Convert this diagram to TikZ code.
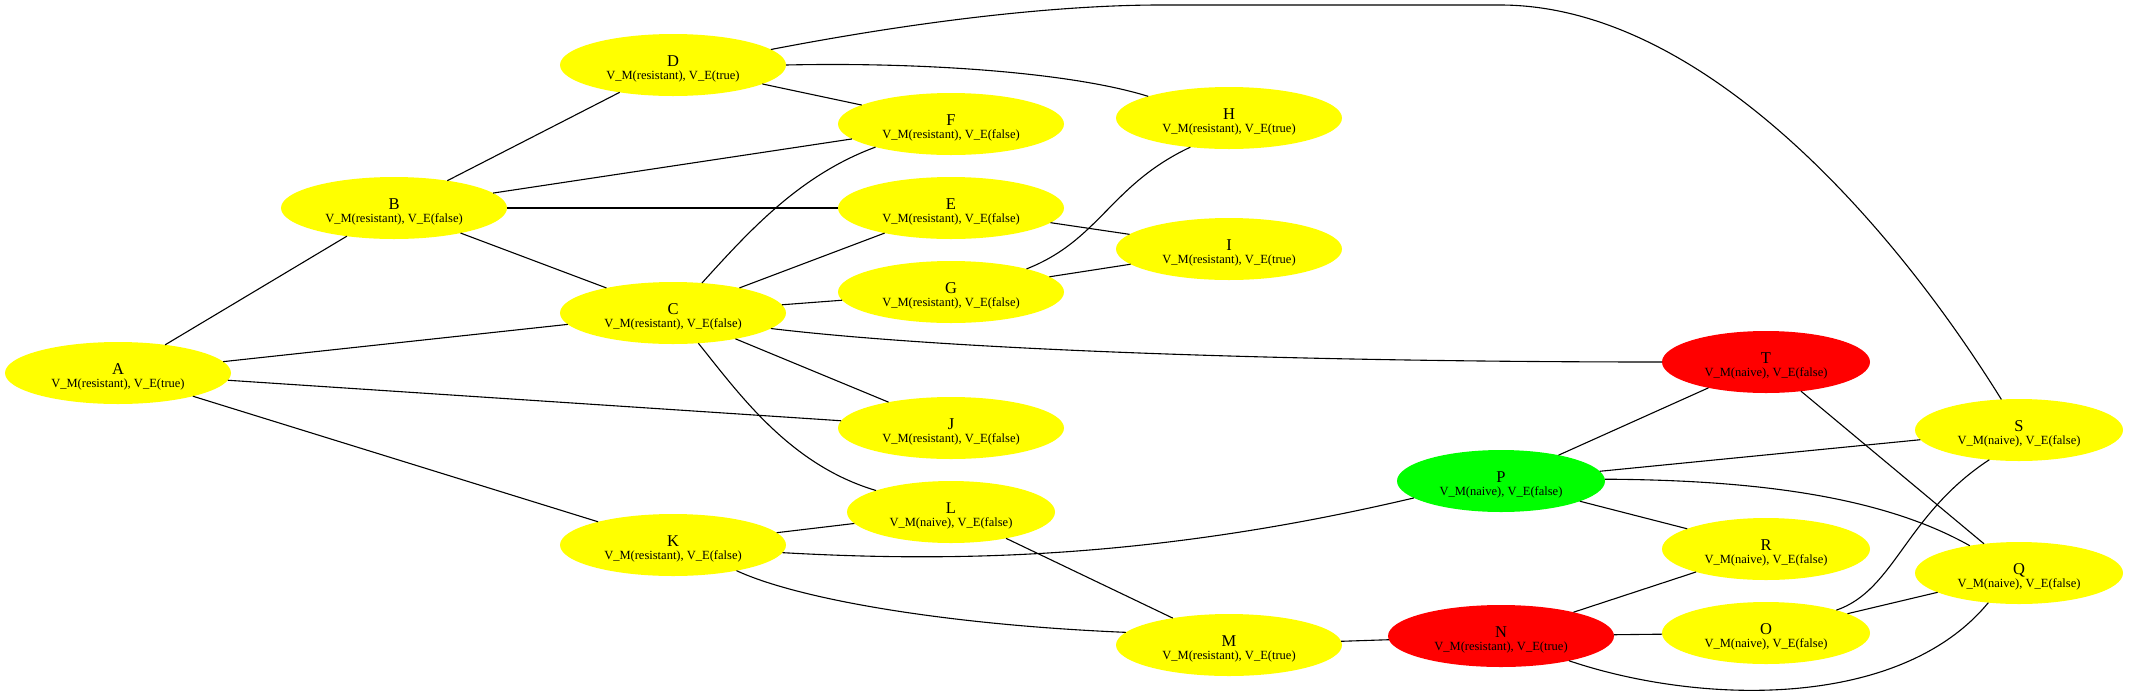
\documentclass[tikz,border=0pt]{standalone}
\usepackage{fontspec}
\setmainfont{Liberation Serif}
\usetikzlibrary{shapes.geometric,calc}
\tikzset{
  ell/.style={ellipse, draw=none, inner sep=0pt, outer sep=0pt, minimum height=62pt},
  res/.style={ell, minimum width=226pt},
  nai/.style={ell, minimum width=208pt},
  ttl/.style={font=\fontsize{16.5}{18}\selectfont, inner sep=0pt, anchor=base},
  sub/.style={font=\fontsize{12.5}{14}\selectfont, inner sep=0pt, anchor=base},
  lnk/.style={draw=black, line width=1.1pt}
}
\definecolor{gvyellow}{RGB}{255,255,0}
\definecolor{gvred}{RGB}{255,0,0}
\definecolor{gvgreen}{RGB}{0,255,0}
\newcommand\gvnode[6]{%
  \node[#2, fill=#3] (#1) at (#4,#5) {};
  \node[ttl] (#1t) at ($(#1)+(0,1)$) {#1};
  \node[sub] (#1s) at ($(#1)+(0,14.5)$) {#6};
}
\begin{document}
\begin{tikzpicture}[x=1pt,y=-1pt]
\useasboundingbox[fill=white] (0,0) rectangle (2130,697);
\gvnode{A}{res}{gvyellow}{118}{373}{V\_M(resistant), V\_E(true)}
\gvnode{B}{res}{gvyellow}{394}{208}{V\_M(resistant), V\_E(false)}
\gvnode{D}{res}{gvyellow}{673}{65}{V\_M(resistant), V\_E(true)}
\gvnode{C}{res}{gvyellow}{673}{313}{V\_M(resistant), V\_E(false)}
\gvnode{K}{res}{gvyellow}{673}{545}{V\_M(resistant), V\_E(false)}
\gvnode{F}{res}{gvyellow}{951}{124}{V\_M(resistant), V\_E(false)}
\gvnode{E}{res}{gvyellow}{951}{208}{V\_M(resistant), V\_E(false)}
\gvnode{G}{res}{gvyellow}{951}{292}{V\_M(resistant), V\_E(false)}
\gvnode{J}{res}{gvyellow}{951}{428}{V\_M(resistant), V\_E(false)}
\gvnode{L}{nai}{gvyellow}{951}{512}{V\_M(naive), V\_E(false)}
\gvnode{H}{res}{gvyellow}{1229}{118}{V\_M(resistant), V\_E(true)}
\gvnode{I}{res}{gvyellow}{1229}{249}{V\_M(resistant), V\_E(true)}
\gvnode{M}{res}{gvyellow}{1229}{645}{V\_M(resistant), V\_E(true)}
\gvnode{P}{nai}{gvgreen}{1501}{481}{V\_M(naive), V\_E(false)}
\gvnode{N}{res}{gvred}{1501}{636}{V\_M(resistant), V\_E(true)}
\gvnode{T}{nai}{gvred}{1766}{362}{V\_M(naive), V\_E(false)}
\gvnode{R}{nai}{gvyellow}{1766}{549}{V\_M(naive), V\_E(false)}
\gvnode{O}{nai}{gvyellow}{1766}{633}{V\_M(naive), V\_E(false)}
\gvnode{S}{nai}{gvyellow}{2019}{430}{V\_M(naive), V\_E(false)}
\gvnode{Q}{nai}{gvyellow}{2019}{573}{V\_M(naive), V\_E(false)}
% straight edges
\draw[lnk] (A) -- (B);
\draw[lnk] (A) -- (C);
\draw[lnk] (A) -- (J);
\draw[lnk] (A) -- (K);
\draw[lnk] (B) -- (D);
\draw[lnk] (B) -- (F);
\draw[lnk] (B) -- (E);
\draw[lnk] (B) -- (C);
\draw[lnk] (D) -- (F);
\draw[lnk] (C) -- (E);
\draw[lnk] (C) -- (G);
\draw[lnk] (C) -- (J);
\draw[lnk] (E) -- (I);
\draw[lnk] (G) -- (I);
\draw[lnk] (T) -- (P);
\draw[lnk] (T) -- (Q);
\draw[lnk] (P) -- (S);
\draw[lnk] (P) -- (R);
\draw[lnk] (K) -- (L);
\draw[lnk] (L) -- (M);
\draw[lnk] (M) -- (N);
\draw[lnk] (N) -- (R);
\draw[lnk] (N) -- (O);
\draw[lnk] (O) -- (Q);
% curved edges
\coordinate (ds1) at (1160,5);
\coordinate (ds2) at (1500,5);
\draw[lnk] (D.9) .. controls (950,15) and (1080,5) .. (ds1) -- (ds2) .. controls (1700,5) and (1890,220) .. (S.120);
\draw[lnk] (D.0) .. controls (920,62) and (1070,72) .. (H.165);
\draw[lnk] (C.46) .. controls (750,230) and (800,175) .. (F.197);
\draw[lnk] (C.351) .. controls (950,350) and (1300,362) .. (T.180);
\draw[lnk] (C.310) .. controls (740,395) and (790,465) .. (L.164);
\draw[lnk] (G.17) .. controls (1100,240) and (1110,185) .. (H.217);
\draw[lnk] (P.1) .. controls (1750,480) and (1880,495) .. (Q.151);
\draw[lnk] (K.356) .. controls (950,562) and (1150,560) .. (P.191);
\draw[lnk] (K.338) .. controls (800,600) and (950,625) .. (M.173);
\draw[lnk] (N.340) .. controls (1700,705) and (1900,710) .. (Q.224);
\draw[lnk] (O.18) .. controls (1895,590) and (1905,515) .. (S.225);
\end{tikzpicture}
\end{document}
